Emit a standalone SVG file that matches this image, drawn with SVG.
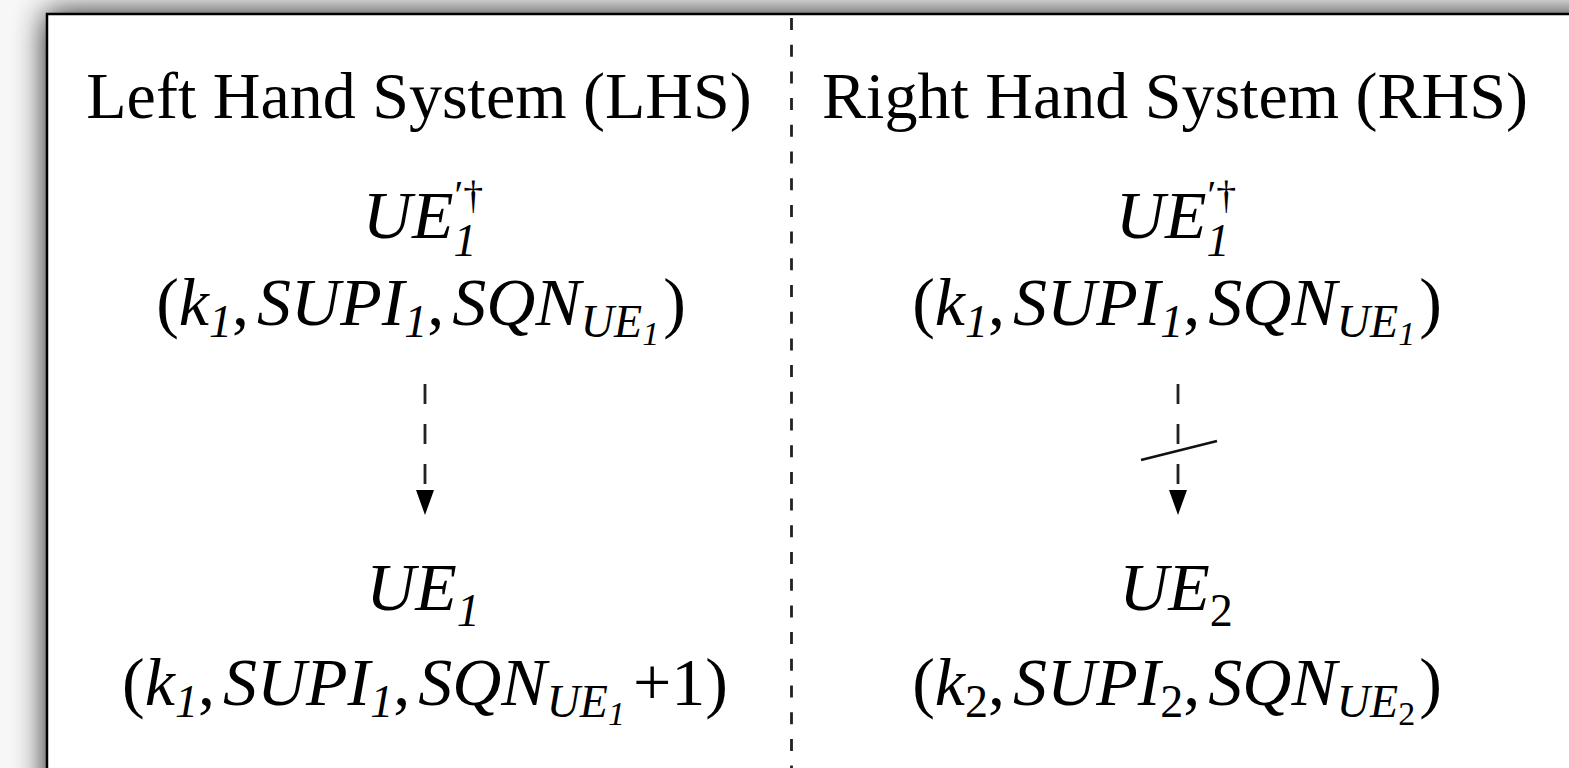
<svg xmlns="http://www.w3.org/2000/svg" width="1569" height="768" viewBox="0 0 1569 768">
<defs>
<filter id="sh" x="-10%" y="-10%" width="120%" height="120%">
<feGaussianBlur in="SourceAlpha" stdDeviation="16"/>
<feComponentTransfer><feFuncA type="linear" slope="0.9"/></feComponentTransfer>
<feMerge><feMergeNode/><feMergeNode in="SourceGraphic"/></feMerge>
</filter>
<marker id="ah" markerWidth="26" markerHeight="20" refX="0" refY="10" orient="auto" markerUnits="userSpaceOnUse" viewBox="0 0 26 20">
<path d="M0,1 L25,10 L0,19 Z" fill="#000"/>
</marker>
<style>
.t{font-family:"Liberation Serif","Times New Roman",serif;font-size:66px;fill:#000}
.m{font-family:"Liberation Serif","Times New Roman",serif;font-style:italic;font-size:68px;fill:#000;text-anchor:middle}
.s{font-size:46px}
.sup{font-size:40px;font-style:normal}
.ss{font-size:34px}
.up{font-style:normal}
.dash{stroke:#222;stroke-width:2.8;fill:none}
</style>
</defs>
<rect x="0" y="0" width="1569" height="768" fill="#f7f7f7"/>
<rect x="47" y="14" width="1560" height="800" fill="#fff" stroke="#000" stroke-width="2.5" filter="url(#sh)"/>
<g id="divider">
<line x1="791.5" y1="18" x2="791.5" y2="768" class="dash" stroke-dasharray="12 14.7"/>
</g>
<g id="title-lhs"><text class="t" x="419" y="118" text-anchor="middle">Left Hand System (LHS)</text></g>
<g id="title-rhs"><text class="t" x="1175" y="118" text-anchor="middle">Right Hand System (RHS)</text></g>
<g id="lhs-top">
<text class="m" x="423" y="238">UE<tspan class="s" dy="18">1</tspan><tspan class="sup" dx="-22" dy="-48">′†</tspan></text>
<text class="m" x="421" y="325"><tspan class="up">(</tspan>k<tspan class="s" dy="12">1</tspan><tspan dy="-12" class="up">,</tspan><tspan dx="8">SUPI</tspan><tspan class="s" dy="12">1</tspan><tspan dy="-12" class="up">,</tspan><tspan dx="8">SQN</tspan><tspan class="s" dy="12">UE</tspan><tspan class="ss" dy="8">1</tspan><tspan dy="-20" dx="4" class="up">)</tspan></text>
</g>
<g id="lhs-bottom">
<text class="m" x="423" y="610">UE<tspan class="s" dy="16">1</tspan></text>
<text class="m" x="425" y="705"><tspan class="up">(</tspan>k<tspan class="s" dy="12">1</tspan><tspan dy="-12" class="up">,</tspan><tspan dx="8">SUPI</tspan><tspan class="s" dy="12">1</tspan><tspan dy="-12" class="up">,</tspan><tspan dx="8">SQN</tspan><tspan class="s" dy="12">UE</tspan><tspan class="ss" dy="8">1</tspan><tspan dy="-20" dx="8" class="up">+1)</tspan></text>
</g>
<g id="rhs-top">
<text class="m" x="1176" y="238">UE<tspan class="s" dy="18">1</tspan><tspan class="sup" dx="-22" dy="-48">′†</tspan></text>
<text class="m" x="1177" y="325"><tspan class="up">(</tspan>k<tspan class="s" dy="12">1</tspan><tspan dy="-12" class="up">,</tspan><tspan dx="8">SUPI</tspan><tspan class="s" dy="12">1</tspan><tspan dy="-12" class="up">,</tspan><tspan dx="8">SQN</tspan><tspan class="s" dy="12">UE</tspan><tspan class="ss" dy="8">1</tspan><tspan dy="-20" dx="4" class="up">)</tspan></text>
</g>
<g id="rhs-bottom">
<text class="m" x="1176" y="610">UE<tspan class="s up" dy="16">2</tspan></text>
<text class="m" x="1177" y="705"><tspan class="up">(</tspan>k<tspan class="s up" dy="12">2</tspan><tspan dy="-12" class="up">,</tspan><tspan dx="8">SUPI</tspan><tspan class="s up" dy="12">2</tspan><tspan dy="-12" class="up">,</tspan><tspan dx="8">SQN</tspan><tspan class="s" dy="12">UE</tspan><tspan class="ss up" dy="8">2</tspan><tspan dy="-20" dx="4" class="up">)</tspan></text>
</g>
<g id="connectors">
<path d="M425,384 V490" class="dash" stroke-dasharray="20 20" marker-end="url(#ah)"/>
<path d="M1178,384 V490" class="dash" stroke-dasharray="20 20" marker-end="url(#ah)"/>
<line x1="1141" y1="460" x2="1217" y2="441" stroke="#111" stroke-width="2.5"/>
</g>
</svg>
